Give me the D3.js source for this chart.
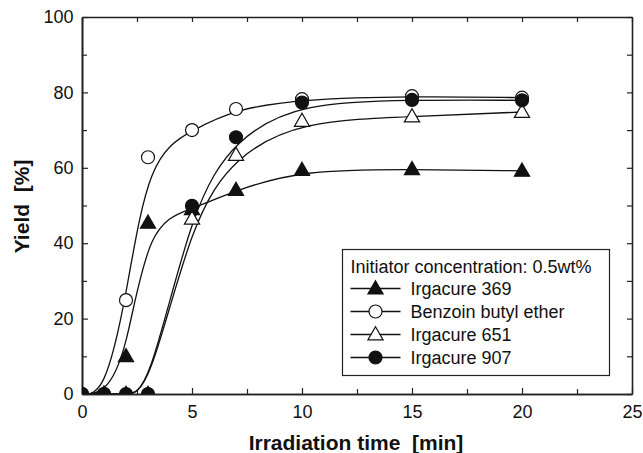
<!DOCTYPE html>
<html>
<head>
<meta charset="utf-8">
<script src="https://cdn.jsdelivr.net/npm/d3@7/dist/d3.min.js"></script>
<style>
  html, body { margin: 0; padding: 0; background: #fff; }
  svg { display: block; font-family: "Liberation Sans", Arial, sans-serif; }
</style>
</head>
<body>
<svg id="chart" width="643" height="453"></svg>
<script>
// Irradiation time (min) at which yield was measured
const times = [0, 1, 2, 3, 5, 7, 10, 15, 20];

// Yield (%) for each photoinitiator
const irgacure369 = [0, 0, 10, 45.4, 49, 54.1, 59.4, 59.6, 59.2];
const benzoinButylEther = [0, 0, 24.9, 62.8, 70.0, 75.6, 78.2, 79.0, 78.6];
const irgacure651 = [0, 0, 0, 0, 46.5, 63.4, 72.4, 73.6, 74.8];
const irgacure907 = [0, 0, 0, 0, 49.9, 68.1, 77.3, 78.0, 77.9];

const seriesNames = ["Irgacure 369", "Benzoin butyl ether", "Irgacure 651", "Irgacure 907"];
const seriesValues = [irgacure369, benzoinButylEther, irgacure651, irgacure907];
const seriesMarkers = ["triangle", "circle", "triangle", "circle"];
const seriesFilled = [true, false, false, true];

const xTicks = [0, 5, 10, 15, 20, 25];
const yTicks = [0, 20, 40, 60, 80, 100];
const xMinorTicks = [2.5, 7.5, 12.5, 17.5, 22.5];
const yMinorTicks = [10, 30, 50, 70, 90];

const legendTitle = "Initiator concentration: 0.5wt%";
const xTitle = "Irradiation time  [min]";
const yTitle = "Yield  [%]";

const margin = { left: 82, top: 17, right: 11, bottom: 59 };
const W = 643, H = 453;
const iw = W - margin.left - margin.right;
const ih = H - margin.top - margin.bottom;

const svg = d3.select("#chart");
const g = svg.append("g").attr("transform", `translate(${margin.left},${margin.top})`);

const x = d3.scaleLinear().domain([0, 25]).range([0, iw]);
const y = d3.scaleLinear().domain([0, 100]).range([ih, 0]);

g.append("defs").append("clipPath").attr("id", "plotClip")
  .append("rect").attr("x", 0).attr("y", 0).attr("width", iw).attr("height", ih);

// Axes: ticks point inward, labels on bottom and left only
const axisColor = "#222";
function styleAxis(sel) {
  sel.select(".domain").attr("stroke", axisColor).attr("stroke-width", 1.6);
  sel.selectAll(".tick line").attr("stroke", axisColor).attr("stroke-width", 1.2);
  sel.selectAll(".tick text").attr("fill", "#111").style("font-size", "18px")
     .style("font-family", "'Liberation Sans', Arial, sans-serif");
}

g.append("g").attr("transform", `translate(0,${ih})`)
  .call(d3.axisBottom(x).tickValues(xTicks).tickSize(-6).tickPadding(11.5).tickSizeOuter(0))
  .call(styleAxis);
g.append("g").attr("transform", `translate(0,${ih})`)
  .call(d3.axisBottom(x).tickValues(xMinorTicks).tickSize(-5).tickFormat("").tickSizeOuter(0))
  .call(styleAxis);
g.append("g")
  .call(d3.axisLeft(y).tickValues(yTicks).tickSize(-6).tickPadding(8.5).tickSizeOuter(0))
  .call(styleAxis);
g.append("g")
  .call(d3.axisLeft(y).tickValues(yMinorTicks).tickSize(-5).tickFormat("").tickSizeOuter(0))
  .call(styleAxis);
g.append("g")
  .call(d3.axisTop(x).tickValues(xTicks.concat(xMinorTicks)).tickSize(-5).tickFormat("").tickSizeOuter(0))
  .call(styleAxis);
g.append("g").attr("transform", `translate(${iw},0)`)
  .call(d3.axisRight(y).tickValues(yTicks.concat(yMinorTicks)).tickSize(-5).tickFormat("").tickSizeOuter(0))
  .call(styleAxis);

// Smoothed curves through each data series
const line = d3.line()
  .x((d, i) => x(times[i]))
  .y(d => y(d))
  .curve(d3.curveBasis);

const curves = g.append("g").attr("clip-path", "url(#plotClip)");
seriesValues.forEach(vals => {
  curves.append("path")
    .attr("d", line(vals))
    .attr("fill", "none")
    .attr("stroke", "#111")
    .attr("stroke-width", 1.3);
});

// Marker symbols
const triSym = d3.symbol().type(d3.symbolTriangle).size(100);
const circR = 6.5;
function drawMarker(sel, type, filled, cx, cy) {
  const fill = filled ? "#111" : "#fff";
  if (type === "circle") {
    sel.append("circle").attr("cx", cx).attr("cy", cy).attr("r", circR)
      .attr("fill", fill).attr("stroke", "#111").attr("stroke-width", 1.2);
  } else {
    sel.append("path").attr("d", triSym())
      .attr("transform", `translate(${cx},${cy + 1})`)
      .attr("fill", fill).attr("stroke", "#111").attr("stroke-width", 1.2);
  }
}

const markers = g.append("g").attr("clip-path", "url(#plotClip)");
seriesValues.forEach((vals, s) => {
  const mg = markers.append("g");
  vals.forEach((v, i) => drawMarker(mg, seriesMarkers[s], seriesFilled[s], x(times[i]), y(v)));
});

// Legend
const lg = svg.append("g");
const lx = 342.5, ly = 249.5, lw = 267, lh = 126;
lg.append("rect").attr("x", lx).attr("y", ly).attr("width", lw).attr("height", lh)
  .attr("fill", "#fff").attr("stroke", "#222").attr("stroke-width", 1.2);
lg.append("text").attr("x", lx + 8).attr("y", ly + 23)
  .style("font-size", "18px").attr("fill", "#111").text(legendTitle);
seriesNames.forEach((name, s) => {
  const cy = ly + 39 + s * 23;
  lg.append("line").attr("x1", lx + 8).attr("x2", lx + 58).attr("y1", cy).attr("y2", cy)
    .attr("stroke", "#111").attr("stroke-width", 1.3);
  drawMarker(lg, seriesMarkers[s], seriesFilled[s], lx + 33, cy);
  lg.append("text").attr("x", lx + 68).attr("y", cy + 6)
    .style("font-size", "18px").attr("fill", "#111").text(name);
});

// Axis titles
svg.append("text")
  .attr("x", 356).attr("y", 449.5)
  .attr("text-anchor", "middle")
  .style("font-size", "21px").style("font-weight", "bold").style("white-space", "pre")
  .attr("fill", "#111").text(xTitle);
svg.append("text")
  .attr("transform", `translate(29,${margin.top + ih / 2 + 1}) rotate(-90)`)
  .attr("text-anchor", "middle")
  .style("font-size", "21px").style("font-weight", "bold").style("white-space", "pre")
  .attr("fill", "#111").text(yTitle);
</script>
</body>
</html>
